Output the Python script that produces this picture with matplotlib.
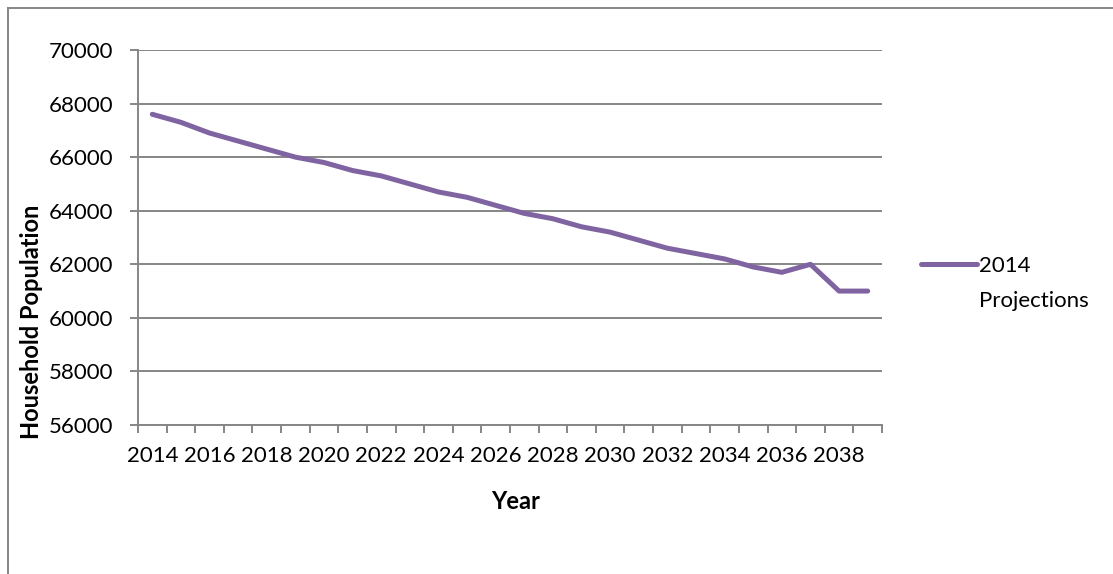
import numpy as np
import matplotlib
matplotlib.use("Agg")
import matplotlib.pyplot as plt
from matplotlib.lines import Line2D

years = np.arange(2014, 2040)
population = [67600, 67300, 66900, 66600, 66300, 66000, 65800, 65500, 65300,
              65000, 64700, 64500, 64200, 63900, 63700, 63400, 63200, 62900,
              62600, 62400, 62200, 61900, 61700, 62000, 61000, 61000]
series_name = ["2014", "Projections"]
label_years = np.arange(2014, 2040, 2)
y_ticks = np.arange(56000, 70001, 2000)

plt.rcParams['font.family'] = ['Lato', 'DejaVu Sans']
grey = "#868686"
purple = "#8064A2"

W, H = 1113, 574
fig = plt.figure(figsize=(W / 100, H / 100), dpi=100)
# plot area in pixels: x 138..882, y 50..425
ax = fig.add_axes([138 / W, 1 - 425 / H, 744 / W, 375 / H])

ax.plot(years, population, color=purple, lw=3.6, solid_capstyle="round",
        solid_joinstyle="round", label=series_name[0])

ax.set_xlim(years[0] - 0.5, years[-1] + 0.5)
ax.set_ylim(56000, 70000)
ax.set_yticks(y_ticks)
ax.set_xticks(label_years)
ax.set_xticks(np.arange(years[0] - 0.5, years[-1] + 1), minor=True)
ax.grid(axis="y", color=grey, lw=1.4)
ax.set_axisbelow(True)

for s in ["top", "right"]:
    ax.spines[s].set_visible(False)
for s in ["left", "bottom"]:
    ax.spines[s].set_color(grey)
    ax.spines[s].set_linewidth(1.4)

ax.tick_params(axis="y", length=6, width=1.4, color=grey, pad=12, labelsize=16)
ax.tick_params(axis="x", which="major", length=0, pad=15, labelsize=16)
ax.tick_params(axis="x", which="minor", length=5.4, width=1.4, color=grey)

ax.set_xlabel("Year", fontweight="bold", fontsize=17)
ax.xaxis.set_label_coords(0.508, -0.173)
ax.set_ylabel("Household Population", fontweight="bold", fontsize=17)
ax.yaxis.set_label_coords(-0.128, 0.275)

# legend: handle aligned with the first line of the wrapped series name
leg = fig.legend(loc="center left", bbox_to_anchor=(921 / W, 1 - 266 / H),
                 frameon=False, fontsize=16, handlelength=2.5, handletextpad=0.1,
                 borderpad=0, borderaxespad=0)
fig.text(979 / W, 1 - 307 / H, series_name[1], fontsize=16, va="baseline")

# outer chart border (only top and left visible)
fig.add_artist(Line2D([8 / W, 1], [1 - 8 / H, 1 - 8 / H], color=grey, lw=1.4,
                      transform=fig.transFigure))
fig.add_artist(Line2D([8 / W, 8 / W], [0, 1 - 8 / H], color=grey, lw=1.4,
                      transform=fig.transFigure))

fig.savefig("out.png", dpi=100)
